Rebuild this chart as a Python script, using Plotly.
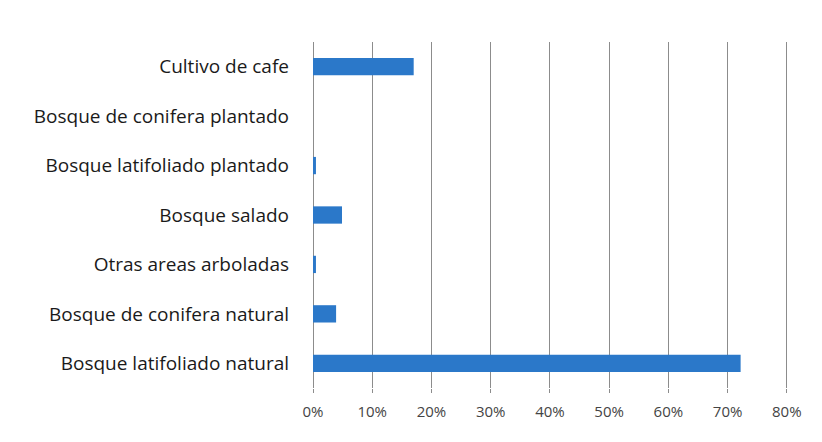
import plotly.graph_objects as go

# categories listed top to bottom as in the chart
categories = ['Cultivo de cafe',
              'Bosque de conifera plantado',
              'Bosque latifoliado plantado',
              'Bosque salado',
              'Otras areas arboladas',
              'Bosque de conifera natural',
              'Bosque latifoliado natural']
shares = [17.0, 0.0, 0.5, 4.9, 0.5, 3.9, 72.2]  # percent
x_ticks = [0, 10, 20, 30, 40, 50, 60, 70, 80]
x_labels = [str(v) + '%' for v in x_ticks]

fig = go.Figure()
fig.add_trace(go.Bar(
    x=shares, y=categories,
    orientation='h',
    marker=dict(color='#2b78c9', line=dict(width=0)),
    width=0.35
))

fig.update_layout(
    width=822, height=442,
    margin=dict(l=305, r=42, t=34, b=62),
    paper_bgcolor='white',
    plot_bgcolor='white',
    showlegend=False,
    font=dict(family='Open Sans', size=14, color='#222222'),
    xaxis=dict(
        range=[0, 80.2],  # a hair past 80 so the last grid line is drawn
        tickvals=x_ticks,
        ticktext=x_labels,
        showgrid=True, gridcolor='#8c8c8c', gridwidth=1,
        zeroline=True, zerolinecolor='#8c8c8c', zerolinewidth=1,
        ticks='outside', ticklen=4, tickcolor='#8c8c8c',
        ticklabelstandoff=6,
        tickfont=dict(size=15, color='#444444')),
    yaxis=dict(
        autorange='reversed',
        showgrid=False,
        showline=False,
        ticks='',
        ticklabelstandoff=23,
        tickfont=dict(size=19, color='#1a1a1a'))
)

fig.write_html("out.html")
